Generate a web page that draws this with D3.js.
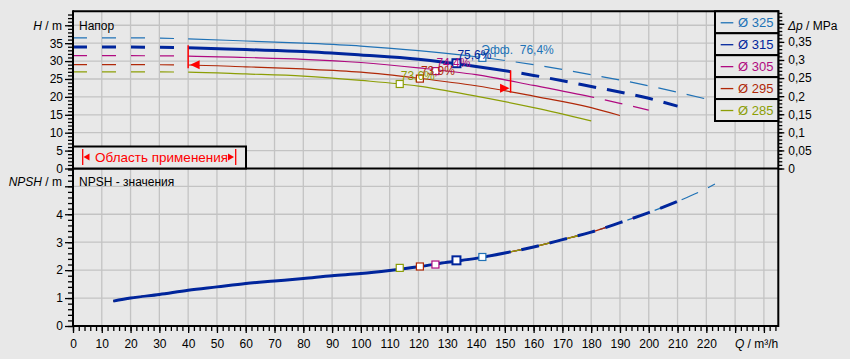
<!DOCTYPE html>
<html><head><meta charset="utf-8">
<script src="https://cdn.jsdelivr.net/npm/d3@7"></script>
<style>
body{margin:0;background:#e8e8e8;}
svg{display:block;font-family:"Liberation Sans",Arial,sans-serif;}
</style>
</head><body>
<svg id="c" width="850" height="359"></svg>
<script>
// ---------- data ----------
const diameters = ["Ø 325", "Ø 315", "Ø 305", "Ø 295", "Ø 285"];
const colors = ["#2072b6", "#00259c", "#b00a80", "#b02808", "#8c9e06"];
const q325 = [0, 20, 40, 60, 80, 100, 120, 140, 160, 180, 200, 219.5];
const h325 = [36.5, 36.5, 36.2, 35.6, 35.0, 34.2, 32.9, 31.2, 29.0, 26.2, 23.1, 19.5];
const q315 = [0, 20, 40, 60, 80, 100, 120, 140, 160, 180, 200, 210];
const h315 = [33.9, 33.9, 33.7, 33.2, 32.7, 31.7, 30.5, 28.5, 26.0, 22.9, 19.6, 17.4];
const q305 = [0, 20, 40, 60, 80, 100, 120, 140, 160, 180, 190, 200];
const h305 = [31.5, 31.5, 31.4, 31.0, 30.5, 29.6, 28.1, 26.2, 23.2, 20.0, 18.2, 16.3];
const q295 = [0, 20, 40, 60, 80, 100, 120, 140, 160, 180, 190];
const h295 = [29.0, 29.0, 28.9, 28.4, 27.8, 26.9, 25.2, 23.1, 20.2, 17.0, 14.8];
const q285 = [0, 20, 40, 60, 80, 100, 120, 140, 160, 180];
const h285 = [27.0, 27.0, 26.9, 26.4, 25.8, 24.6, 23.0, 20.2, 17.0, 13.3];
const solidFrom = [40, 40, 40, 40, 40];
const solidTo = [150, 152, 181, 190, 180];
const npshQ = [14, 20, 30, 40, 50, 60, 70, 80, 90, 100, 110, 120, 130, 140, 150, 160, 170, 180, 190, 200, 210, 220, 223];
const npshV = [0.89, 1.0, 1.13, 1.28, 1.40, 1.52, 1.61, 1.70, 1.80, 1.88, 1.99, 2.12, 2.28, 2.42, 2.61, 2.83, 3.09, 3.36, 3.70, 4.06, 4.46, 4.92, 5.08];
const npshEnd = [223, 210, 200, 190, 180];
const bepQ = [142.2, 133.2, 125.9, 120.5, 113.5];
const bepH = [30.9, 29.4, 27.2, 25.1, 23.6];
const bepNpsh = [2.47, 2.35, 2.20, 2.13, 2.08];
const bepLabel = ["Эфф.  76,4%", "75,6%", "74,4%", "73,9%", "73,6%"];
const rangeQ = [40, 152];
const rangeTop = [34.4, 27.4];
const rangeBottom = [28.0, 21.2];
const rangeArrowH = [29.0, 22.4];
const qTicks = d3.range(0, 230, 10);
const hTicks = d3.range(0, 45, 5);
const dpTicks = d3.range(0, 0.41, 0.05);
const npshTicks = [0, 1, 2, 3, 4, 5];
const rangeText = "Область применения";

const curvesQ = [q325, q315, q305, q295, q285];
const curvesH = [h325, h315, h305, h295, h285];

// ---------- layout ----------
const L = 73, R = 778.3, T = 11.3, S = 168.5, B = 326;
const svg = d3.select("#c");
const x = d3.scaleLinear().domain([0, 245]).range([L, R]);
const yH = d3.scaleLinear().domain([0, 43.9]).range([S, T]);
const yDp = d3.scaleLinear().domain([0, 43.9 * 0.0099]).range([S, T]);
const yN = d3.scaleLinear().domain([0, (B - S) / 27.94]).range([B, S]);
const grid = "#c3c3c3";

svg.append("rect").attr("width", 850).attr("height", 359).attr("fill", "#e8e8e8");

// grids
const g = svg.append("g").attr("stroke", grid).attr("stroke-width", 1.3);
qTicks.concat([230, 240]).filter(d => d > 0).forEach(d => {
  g.append("line").attr("x1", x(d)).attr("x2", x(d)).attr("y1", T).attr("y2", B);
});
hTicks.filter(d => d > 0).forEach(d => {
  g.append("line").attr("x1", L).attr("x2", R).attr("y1", yH(d)).attr("y2", yH(d));
});
npshTicks.filter(d => d > 0).forEach(d => {
  g.append("line").attr("x1", L).attr("x2", R).attr("y1", yN(d)).attr("y2", yN(d));
});

function lenAtX(node, xv) {
  let lo = 0, hi = node.getTotalLength();
  for (let i = 0; i < 40; i++) {
    const m = (lo + hi) / 2;
    if (node.getPointAtLength(m).x < xv) lo = m; else hi = m;
  }
  return lo;
}
function clipRect(id, x0, x1) {
  svg.append("clipPath").attr("id", id).append("rect")
    .attr("x", x0).attr("y", 0).attr("width", Math.max(0, x1 - x0)).attr("height", 359);
}

// ---------- H curves ----------
const lineH = d3.line().x(d => x(d[0])).y(d => yH(d[1])).curve(d3.curveMonotoneX);
const order = [0, 2, 3, 4, 1];
const curveG = svg.append("g").attr("fill", "none");
order.forEach(i => {
  const pts = curvesQ[i].map((q, k) => [q, curvesH[i][k]]);
  const w = i === 1 ? 3 : 1.2;
  const dStr = lineH(pts);
  clipRect("cl" + i, L, x(solidFrom[i]));
  clipRect("cm" + i, x(solidFrom[i]), x(solidTo[i]));
  clipRect("cr" + i, x(solidTo[i]), R);
  curveG.append("path").attr("d", dStr).attr("stroke", colors[i]).attr("stroke-width", w)
    .attr("clip-path", `url(#cl${i})`).attr("stroke-dasharray", "14,15");
  curveG.append("path").attr("d", dStr).attr("stroke", colors[i]).attr("stroke-width", w)
    .attr("clip-path", `url(#cm${i})`);
  const p = curveG.append("path").attr("d", dStr).attr("stroke", colors[i]).attr("stroke-width", w)
    .attr("clip-path", `url(#cr${i})`).attr("stroke-dasharray", "18,11");
  const l0 = lenAtX(p.node(), x(solidTo[i]));
  p.attr("stroke-dashoffset", -(l0 + 11));
});

// ---------- NPSH curves ----------
const lineN = d3.line().x(d => x(d[0])).y(d => yN(d[1])).curve(d3.curveMonotoneX);
const npshPts = npshQ.map((q, k) => [q, npshV[k]]);
order.forEach(i => {
  const w = i === 1 ? 3 : 1.2;
  const dStr = lineN(npshPts);
  clipRect("nm" + i, L, x(solidTo[i]));
  clipRect("nr" + i, x(solidTo[i]), x(npshEnd[i]) + 0.5);
  curveG.append("path").attr("d", dStr).attr("stroke", colors[i]).attr("stroke-width", w)
    .attr("clip-path", `url(#nm${i})`);
  const p = curveG.append("path").attr("d", dStr).attr("stroke", colors[i]).attr("stroke-width", w)
    .attr("clip-path", `url(#nr${i})`).attr("stroke-dasharray", "18,11");
  const l0 = lenAtX(p.node(), x(solidTo[i]));
  p.attr("stroke-dashoffset", -(l0 + 11));
});

// ---------- operating range markers ----------
const red = "#ff0000";
rangeQ.forEach((q, k) => {
  svg.append("line").attr("x1", x(q)).attr("x2", x(q))
    .attr("y1", yH(rangeTop[k])).attr("y2", yH(rangeBottom[k]))
    .attr("stroke", red).attr("stroke-width", 1.5);
  const tx = x(q) + (k === 0 ? 2 : -1), ty = yH(rangeArrowH[k]);
  const dir = k === 0 ? 1 : -1;
  svg.append("path").attr("d", `M${tx},${ty} L${tx + dir * 9.5},${ty - 4.5} L${tx + dir * 9.5},${ty + 4.5} Z`)
    .attr("fill", red);
});

// ---------- BEP boxes ----------
order.forEach(i => {
  const big = i === 1;
  const s = big ? 8 : 7;
  [[x(bepQ[i]), yH(bepH[i])], [x(bepQ[i]), yN(bepNpsh[i])]].forEach(([cx, cy]) => {
    svg.append("rect").attr("x", cx - s / 2).attr("y", cy - s / 2).attr("width", s).attr("height", s)
      .attr("fill", "#ffffff").attr("stroke", colors[i]).attr("stroke-width", big ? 2 : 1.2);
  });
});
order.forEach(i => {
  svg.append("text").attr("x", x(bepQ[i]) + (i === 0 ? -1 : 1)).attr("y", yH(bepH[i]) - 4)
    .attr("font-size", 12).attr("fill", colors[i]).style("white-space", "pre").text(bepLabel[i]);
});

// ---------- borders ----------
const bd = svg.append("g").attr("stroke", "#000").attr("stroke-width", 2).attr("fill", "none");
bd.append("line").attr("x1", L).attr("x2", R).attr("y1", T).attr("y2", T);
bd.append("line").attr("x1", L).attr("x2", R).attr("y1", S).attr("y2", S);
bd.append("line").attr("x1", L).attr("x2", R).attr("y1", B).attr("y2", B);
bd.append("line").attr("x1", L).attr("x2", L).attr("y1", T - 1).attr("y2", B + 1);
bd.append("line").attr("x1", R).attr("x2", R).attr("y1", T - 1).attr("y2", B + 1);

// ---------- axes ----------
function styleAxis(sel, fs) {
  sel.select(".domain").remove();
  sel.selectAll("line").attr("stroke", "#000").attr("stroke-width", 1.3);
  sel.selectAll("text").attr("font-size", fs).attr("fill", "#000")
    .attr("font-family", '"Liberation Sans",Arial,sans-serif');
}
svg.append("g").attr("transform", `translate(${L},0)`)
  .call(d3.axisLeft(yH).tickValues(d3.range(0, 44, 1)).tickSize(5).tickFormat(""))
  .call(s => styleAxis(s, 12));
svg.append("g").attr("transform", `translate(${L},0)`)
  .call(d3.axisLeft(yH).tickValues(hTicks).tickSize(8).tickPadding(2).tickFormat(d => d === 40 ? "" : d))
  .call(s => styleAxis(s, 12));
svg.append("g").attr("transform", `translate(${L},0)`)
  .call(d3.axisLeft(yN).tickValues(d3.range(0, 5.61, 0.2)).tickSize(5).tickFormat(""))
  .call(s => styleAxis(s, 12));
svg.append("g").attr("transform", `translate(${L},0)`)
  .call(d3.axisLeft(yN).tickValues(npshTicks).tickSize(8).tickPadding(2).tickFormat(d => d === 5 ? "" : d))
  .call(s => styleAxis(s, 12));
svg.append("g").attr("transform", `translate(0,${B})`)
  .call(d3.axisBottom(x).tickValues(d3.range(0, 245, 2)).tickSize(5).tickFormat(""))
  .call(s => styleAxis(s, 12));
svg.append("g").attr("transform", `translate(0,${B})`)
  .call(d3.axisBottom(x).tickValues(qTicks.concat([230, 240])).tickSize(7).tickPadding(6)
    .tickFormat(d => d > 220 ? "" : d))
  .call(s => styleAxis(s, 12));
svg.append("g").attr("transform", `translate(${R},0)`)
  .call(d3.axisRight(yDp).tickValues(d3.range(0, 0.431, 0.01)).tickSize(4).tickFormat(""))
  .call(s => styleAxis(s, 12));
svg.append("g").attr("transform", `translate(${R},0)`)
  .call(d3.axisRight(yDp).tickValues(dpTicks).tickSize(6).tickPadding(4)
    .tickFormat(d => d > 0.36 ? "" : String(+d.toFixed(2)).replace(".", ",")))
  .call(s => styleAxis(s, 12));

// ---------- titles ----------
function title(xv, yv, parts, anchor) {
  const t = svg.append("text").attr("x", xv).attr("y", yv).attr("font-size", 12)
    .attr("fill", "#000").attr("text-anchor", anchor || "start");
  parts.forEach(p => t.append("tspan").attr("font-style", p[1] ? "italic" : "normal").text(p[0]));
}
title(62, 29.5, [["H", 1], [" / m", 0]], "end");
title(62, 185.5, [["NPSH", 1], [" / m", 0]], "end");
title(788, 29.5, [["Δp", 1], [" / MPa", 0]]);
title(R, 348, [["Q", 1], [" / m³/h", 0]], "end");
title(79, 29.5, [["Напор", 0]]);
title(79, 185.5, [["NPSH - значения", 0]]);

// ---------- range box ----------
const rb = svg.append("g");
rb.append("rect").attr("x", L).attr("y", 146.5).attr("width", 246 - L).attr("height", S - 146.5)
  .attr("fill", "#e8e8e8").attr("stroke", "#000").attr("stroke-width", 2);
rb.append("line").attr("x1", 82.7).attr("x2", 82.7).attr("y1", 149).attr("y2", 165).attr("stroke", red).attr("stroke-width", 1.3);
rb.append("path").attr("d", "M83.5,157 L89.5,153.5 L89.5,160.5 Z").attr("fill", red);
rb.append("text").attr("x", 95).attr("y", 162).attr("font-size", 13.5).attr("fill", red).text(rangeText);
rb.append("path").attr("d", "M234,157 L228,153.5 L228,160.5 Z").attr("fill", red);
rb.append("line").attr("x1", 235.7).attr("x2", 235.7).attr("y1", 149).attr("y2", 165).attr("stroke", red).attr("stroke-width", 1.3);

// ---------- legend ----------
const lgX = 715, lgH = (121 - T) / diameters.length;
const lg = svg.append("g");
diameters.forEach((d, i) => {
  const y0 = T + i * lgH;
  lg.append("rect").attr("x", lgX).attr("y", y0).attr("width", R - lgX).attr("height", lgH)
    .attr("fill", "#e8e8e8").attr("stroke", "#000").attr("stroke-width", 2);
  lg.append("line").attr("x1", 720.7).attr("x2", 733.3).attr("y1", y0 + lgH / 2 + 0.5).attr("y2", y0 + lgH / 2 + 0.5)
    .attr("stroke", colors[i]).attr("stroke-width", 1.3);
  lg.append("text").attr("x", 738).attr("y", y0 + lgH / 2 + 5).attr("font-size", 13)
    .attr("fill", colors[i]).text(d);
});
</script>
</body></html>
